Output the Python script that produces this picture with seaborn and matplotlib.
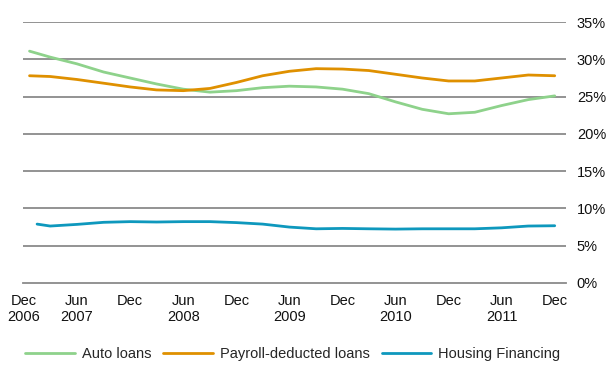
import matplotlib
matplotlib.use("Agg")
import matplotlib.pyplot as plt
import matplotlib.ticker as mticker
import seaborn as sns
import pandas as pd

# Quarterly observations (percent of total), Dec 2006 - Dec 2011
dates = ["2006-12-20", "2007-03-01", "2007-06-01", "2007-09-01", "2007-12-01",
         "2008-03-01", "2008-06-01", "2008-09-01", "2008-12-01", "2009-03-01",
         "2009-06-01", "2009-09-01", "2009-12-01", "2010-03-01", "2010-06-01",
         "2010-09-01", "2010-12-01", "2011-03-01", "2011-06-01", "2011-09-01",
         "2011-12-01"]
auto_loans = [31.1, 30.3, 29.4, 28.3, 27.5, 26.7, 26.0, 25.6, 25.8, 26.2, 26.4,
              26.3, 26.0, 25.4, 24.3, 23.3, 22.7, 22.9, 23.8, 24.6, 25.1]
payroll_loans = [27.8, 27.7, 27.3, 26.8, 26.3, 25.9, 25.8, 26.1, 26.9, 27.8, 28.4,
                 28.75, 28.7, 28.5, 28.0, 27.5, 27.1, 27.1, 27.5, 27.9, 27.8]
housing_dates = ["2007-01-15"] + dates[1:]
housing = [7.9, 7.64, 7.86, 8.14, 8.23, 8.18, 8.23, 8.23, 8.1, 7.9, 7.5,
           7.27, 7.32, 7.27, 7.23, 7.27, 7.27, 7.27, 7.4, 7.64, 7.68]

series_names = ["Auto loans", "Payroll-deducted loans", "Housing Financing"]
colors = ["#8ed28b", "#df9000", "#0e98bd"]

tick_labels = ["Dec\n2006", "Jun\n2007", "Dec", "Jun\n2008", "Dec", "Jun\n2009",
               "Dec", "Jun\n2010", "Dec", "Jun\n2011", "Dec"]

frames = [
    pd.DataFrame({"date": pd.to_datetime(dates), "value": auto_loans, "series": series_names[0]}),
    pd.DataFrame({"date": pd.to_datetime(dates), "value": payroll_loans, "series": series_names[1]}),
    pd.DataFrame({"date": pd.to_datetime(housing_dates), "value": housing, "series": series_names[2]}),
]
df = pd.concat(frames, ignore_index=True)

sns.set_style("white")
plt.rcParams["font.family"] = ["Liberation Sans", "DejaVu Sans"]

fig = plt.figure(figsize=(6.09, 3.68), dpi=100)
ax = fig.add_axes([0.038, 0.231, 0.891, 0.709])

grid_color = "#8a8a8a"
for v in range(5, 40, 5):
    ax.axhline(v, color=grid_color, lw=1.3, zorder=1)

sns.lineplot(data=df, x="date", y="value", hue="series", hue_order=series_names,
             palette=colors, linewidth=2.0, ax=ax, zorder=3, legend=True)

ax.set_ylim(0, 35)
ax.set_xlim(pd.Timestamp("2006-11-28"), pd.Timestamp("2012-01-08"))

ax.yaxis.tick_right()
ax.yaxis.set_major_locator(mticker.MultipleLocator(5))
ax.yaxis.set_major_formatter(mticker.FuncFormatter(lambda v, p: f"{v:.0f}%"))
ax.tick_params(axis="y", length=0, pad=8, labelsize=10.5, colors="#111111")

tick_dates = pd.date_range("2006-12-01", "2011-12-01", freq="6MS")
ax.set_xticks(tick_dates)
ax.set_xticklabels(tick_labels)
ax.tick_params(axis="x", length=5, width=1.2, color=grid_color, direction="out",
               pad=3, labelsize=10.5, labelcolor="#111111")

for s in ["top", "right", "left"]:
    ax.spines[s].set_visible(False)
ax.spines["bottom"].set_color(grid_color)
ax.spines["bottom"].set_linewidth(1.3)
ax.set_xlabel("")
ax.set_ylabel("")

handles, labels = ax.get_legend_handles_labels()
ax.legend(handles, labels, loc="center", bbox_to_anchor=(0.497, -0.272),
          ncol=3, frameon=False, fontsize=10.5, handlelength=3.4,
          columnspacing=0.8, handletextpad=0.5, borderpad=0)

fig.savefig("out.png", dpi=100)
